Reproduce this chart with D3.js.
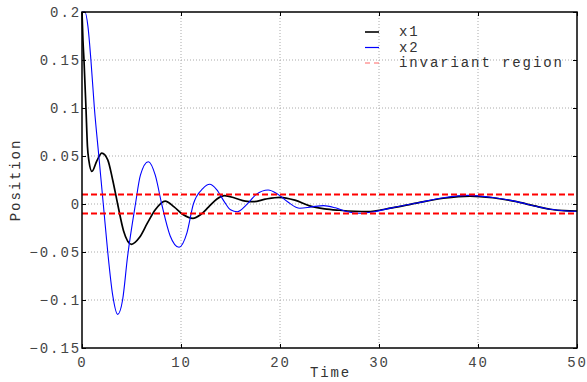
<!DOCTYPE html>
<html>
<head>
<meta charset="utf-8">
<script src="https://cdn.jsdelivr.net/npm/d3@7"></script>
<style>
  body { margin: 0; background: #fff; }
  text { font-family: "Liberation Mono", "DejaVu Sans Mono", monospace; }
</style>
</head>
<body>
<div id="chart"></div>
<script>
// values
var t1 = [0, 0.1, 0.2, 0.4, 0.55, 0.7, 1.0, 1.5, 2.0, 2.6, 3.1, 3.6, 4.2, 5.0, 5.8, 6.6, 7.4, 8.4, 9.3, 10.2, 11.2, 12.0, 12.8, 13.6, 14.4, 15.5, 16.5, 17.3, 18.5, 20, 21.5, 23, 24.5, 26, 28.8, 31.3, 33.8, 36.5, 39.2, 41.5, 43.9, 45.7, 47.3, 48.7, 50];
var x1 = [0.2, 0.17, 0.15, 0.1, 0.06, 0.045, 0.034, 0.045, 0.053, 0.046, 0.025, 0.0, -0.028, -0.042, -0.035, -0.02, -0.006, 0.003, -0.003, -0.011, -0.015, -0.011, -0.003, 0.005, 0.0087, 0.006, 0.003, 0.0024, 0.005, 0.007, 0.004, -0.002, -0.005, -0.0065, -0.008, -0.004, 0.001, 0.006, 0.0083, 0.0065, 0.0024, -0.002, -0.0055, -0.007, -0.0073];

var t2 = [0, 0.3, 0.6, 0.9, 1.25, 1.7, 2.15, 2.6, 3.1, 3.6, 4.1, 4.6, 5.4, 5.9, 6.7, 7.4, 8.05, 8.9, 9.8, 10.6, 11.25, 12.2, 12.9, 13.6, 14.4, 15.0, 15.7, 16.6, 17.6, 18.8, 19.8, 20.8, 22, 23.2, 24.4, 25.6, 26.8, 28.1, 29.5, 31.3, 33.8, 36.5, 39, 41.5, 43.9, 45.7, 47.3, 48.7, 50];
var x2 = [0.2, 0.2, 0.185, 0.15, 0.1, 0.05, 0.0, -0.05, -0.095, -0.115, -0.1, -0.055, 0.0, 0.03, 0.044, 0.03, 0.0, -0.033, -0.045, -0.03, 0.0, 0.016, 0.0205, 0.015, 0.002, -0.006, -0.008, -0.001, 0.01, 0.0146, 0.01, 0.002, -0.0045, -0.003, -0.0017, -0.004, -0.008, -0.0097, -0.008, -0.004, 0.001, 0.0065, 0.009, 0.0068, 0.0025, -0.002, -0.0055, -0.007, -0.0075];

var bound = [0.01, -0.01];
var xTicks = [0, 10, 20, 30, 40, 50];
var yTicks = [0.2, 0.15, 0.1, 0.05, 0, -0.05, -0.1, -0.15];
var legendNames = ["x1", "x2", "invariant region"];

var width = 587, height = 382;
var margin = {top: 12, right: 10, bottom: 34, left: 82};
var w = width - margin.left - margin.right,
    h = height - margin.top - margin.bottom;

var svg = d3.select("#chart").append("svg")
  .attr("width", width)
  .attr("height", height);
var g = svg.append("g").attr("transform", "translate(" + margin.left + "," + margin.top + ")");

var x = d3.scaleLinear().domain([0, 50]).range([0, w]);
var y = d3.scaleLinear().domain([-0.15, 0.2]).range([h, 0]);

// dotted grid
g.selectAll(".gx").data(xTicks.slice(1, -1)).enter().append("line")
  .attr("x1", function(d) { return x(d); }).attr("x2", function(d) { return x(d); })
  .attr("y1", 0).attr("y2", h)
  .attr("stroke", "#aaa").attr("stroke-dasharray", "1,2");
g.selectAll(".gy").data(yTicks.slice(1, -1)).enter().append("line")
  .attr("y1", function(d) { return y(d); }).attr("y2", function(d) { return y(d); })
  .attr("x1", 0).attr("x2", w)
  .attr("stroke", "#aaa").attr("stroke-dasharray", "1,2");

// curves
var line = d3.line()
  .x(function(d) { return x(d[0]); })
  .y(function(d) { return y(d[1]); })
  .curve(d3.curveMonotoneX);

g.append("path").datum(d3.zip(t1, x1))
  .attr("d", line).attr("fill", "none")
  .attr("stroke", "#000").attr("stroke-width", 1.7);
g.append("path").datum(d3.zip(t2, x2))
  .attr("d", line).attr("fill", "none")
  .attr("stroke", "#00f").attr("stroke-width", 1.1);

// invariant region
g.selectAll(".bound").data(bound).enter().append("line")
  .attr("x1", 0).attr("x2", w)
  .attr("y1", function(d) { return y(d); }).attr("y2", function(d) { return y(d); })
  .attr("stroke", "#f00").attr("stroke-width", 2)
  .attr("stroke-dasharray", "6,3");

// frame
g.append("rect").attr("width", w).attr("height", h)
  .attr("fill", "none").attr("stroke", "#000").attr("stroke-width", 1.5);

// axes with inner ticks
function styleAxis(sel) {
  sel.select(".domain").remove();
  sel.selectAll(".tick line").attr("stroke", "#000");
  sel.selectAll(".tick text")
    .attr("fill", "#444")
    .style("font-family", "Liberation Mono, monospace")
    .style("font-size", "14px")
    .style("letter-spacing", "1.9px");
}
var fmt = function(d) { return d3.format("")(d).replace("-", "\u2212"); };

g.append("g").attr("transform", "translate(0," + h + ")")
  .call(d3.axisBottom(x).tickValues(xTicks).tickSize(-4).tickPadding(9).tickFormat(fmt))
  .call(styleAxis);
g.append("g")
  .call(d3.axisTop(x).tickValues(xTicks).tickSize(-4).tickFormat(""))
  .call(styleAxis);
g.append("g")
  .call(d3.axisLeft(y).tickValues(yTicks).tickSize(-4).tickPadding(1).tickFormat(fmt))
  .call(styleAxis);
g.append("g").attr("transform", "translate(" + w + ",0)")
  .call(d3.axisRight(y).tickValues(yTicks).tickSize(-4).tickFormat(""))
  .call(styleAxis);

// axis titles
svg.append("text")
  .attr("x", margin.left + w / 2 + 1).attr("y", 377)
  .attr("text-anchor", "middle")
  .style("font-size", "14px").style("letter-spacing", "1.9px")
  .attr("fill", "#333")
  .text("Time");
svg.append("text")
  .attr("transform", "translate(20," + (margin.top + h / 2) + ") rotate(-90)")
  .attr("text-anchor", "middle")
  .style("font-size", "14px").style("letter-spacing", "1.9px")
  .attr("fill", "#333")
  .text("Position");

// legend
var legColors = ["#000", "#00f", "#f66"];
var leg = svg.append("g").attr("transform", "translate(365,0)");
legendNames.forEach(function(name, i) {
  var yy = 32 + i * 15.5;
  leg.append("line")
    .attr("x1", 0).attr("x2", 14).attr("y1", yy).attr("y2", yy)
    .attr("stroke", legColors[i]).attr("stroke-width", i == 0 ? 1.6 : 1.2)
    .attr("stroke-dasharray", i == 2 ? "5,4" : null);
  leg.append("text")
    .attr("x", 34).attr("y", yy + 4)
    .style("font-size", "14px").style("letter-spacing", "1.9px")
    .attr("fill", "#333")
    .text(name);
});
</script>
</body>
</html>
